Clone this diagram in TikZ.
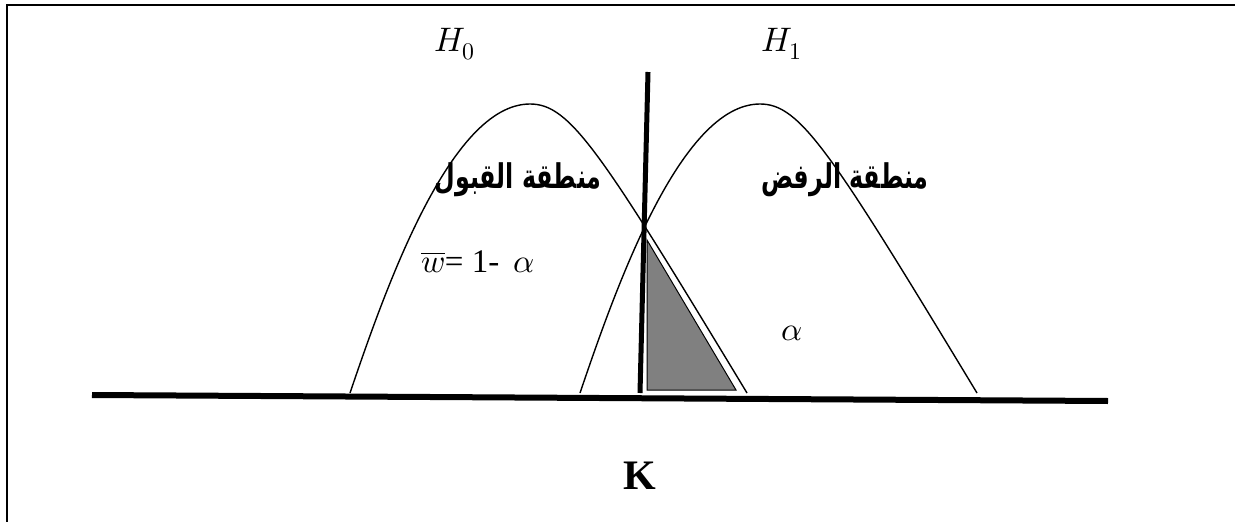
\documentclass[tikz,border=0pt]{standalone}
\usepackage{fontspec}
\usepackage{unicode-math}
\setmainfont{Liberation Serif}
\setmathfont{Latin Modern Math}
\newfontfamily\arabicfont[Script=Arabic,FakeStretch=0.7]{DejaVu Sans}
\TeXXeTstate=1
\tikzset{
  frameline/.style={line width=2pt, line cap=rect},
  curveline/.style={line width=1.4pt},
  axisline/.style={line width=6pt},
  critline/.style={line width=5pt},
  areafill/.style={fill=gray, draw=black, line width=1pt},
  arlabel/.style={font=\fontsize{34}{38}\selectfont\arabicfont\bfseries, inner sep=0pt},
  hyplabel/.style={font=\fontsize{34}{38}\selectfont, inner sep=0pt},
  midlabel/.style={font=\fontsize{33}{36}\selectfont, inner sep=0pt},
}
\begin{document}
\begin{tikzpicture}[x=1pt,y=-1pt]
\useasboundingbox (0,0) rectangle (1235,522);
% frame
\coordinate (tl) at (7,5);
\coordinate (tr) at (1235,5);
\coordinate (bl) at (7,522);
\draw[frameline] (tr) -- (tl) -- (bl);
% texts
\node[hyplabel] (h0) at (455,44) {$H_0$};
\node[hyplabel] (h1) at (782,44) {$H_1$};
\node[arlabel] (acc) at (518,180) {\beginR منطقة  القبول\endR};
\node[arlabel] (rej) at (845,180) {\beginR منطقة الرفض\endR};
\node[midlabel, anchor=west] (wbar) at (421,262) {$\overline{w}$= 1-\, $\alpha$};
\node[midlabel] (alpha) at (792,333) {$\alpha$};
\node[font=\fontsize{42}{46}\selectfont\bfseries, inner sep=0pt] (k) at (640,476) {K};
% shaded area
\coordinate (ta) at (647,240);
\coordinate (tb) at (647,390);
\coordinate (tc) at (736,390);
\filldraw[areafill] (ta) -- (tb) -- (tc) -- cycle;
% curves
\coordinate (l0) at (350,393);
\coordinate (lp) at (530,104);
\coordinate (l1) at (747,393);
\draw[curveline] (l0) .. controls (385,290) and (450,104) .. (lp)
                      .. controls (570,104) and (600,150) .. (l1);
\coordinate (r0) at (580,393);
\coordinate (rp) at (760,104);
\coordinate (r1) at (977,393);
\draw[curveline] (r0) .. controls (615,290) and (680,104) .. (rp)
                      .. controls (800,104) and (830,150) .. (r1);
% axis and critical line
\coordinate (a1) at (92,395);
\coordinate (a2) at (1108,401);
\draw[axisline] (a1) -- (a2);
\coordinate (c1) at (648,72);
\coordinate (c2) at (640,393);
\draw[critline] (c1) -- (c2);
\end{tikzpicture}
\end{document}
